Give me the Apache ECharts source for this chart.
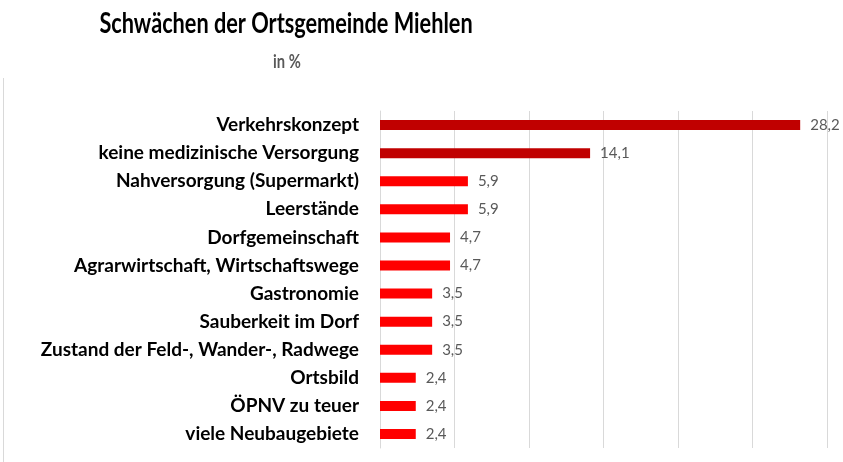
<!DOCTYPE html>
<html>
<head>
<meta charset="utf-8">
<script src="https://cdn.jsdelivr.net/npm/echarts@6/dist/echarts.min.js"></script>
<style>
  html, body { margin: 0; padding: 0; background: #fff; }
  #chart { width: 843px; height: 462px; }
</style>
</head>
<body>
<div id="chart"></div>
<script>
// Kategorien von oben nach unten
const categories = [
  'Verkehrskonzept',
  'keine medizinische Versorgung',
  'Nahversorgung (Supermarkt)',
  'Leerstände',
  'Dorfgemeinschaft',
  'Agrarwirtschaft, Wirtschaftswege',
  'Gastronomie',
  'Sauberkeit im Dorf',
  'Zustand der Feld-, Wander-, Radwege',
  'Ortsbild',
  'ÖPNV zu teuer',
  'viele Neubaugebiete'
]
const values = [28.2, 14.1, 5.9, 5.9, 4.7, 4.7, 3.5, 3.5, 3.5, 2.4, 2.4, 2.4]
const topCount = 2 // die ersten zwei Balken dunkelrot

const chart = echarts.init(document.getElementById('chart'))

const option = {
  animation: false,
  textStyle: { fontFamily: 'Lato' },
  grid: {
    left: 380,
    right: 16,
    top: 111,
    bottom: 14
  },
  xAxis: {
    type: 'value',
    min: 0,
    max: 30,
    interval: 5,
    axisLabel: { show: false },
    axisTick: { show: false },
    axisLine: { show: false },
    splitLine: { lineStyle: { color: '#d9d9d9', width: 1 } }
  },
  yAxis: {
    type: 'category',
    inverse: true,
    data: categories,
    axisTick: { show: false },
    axisLine: { show: true, lineStyle: { color: '#d9d9d9' } },
    axisLabel: {
      margin: 21,
      fontFamily: 'Lato',
      fontSize: 19,
      fontWeight: 'bold',
      color: '#000'
    }
  },
  series: [
    {
      type: 'bar',
      barWidth: 10,
      data: values.map((v, i) => ({
        value: v,
        itemStyle: { color: i < topCount ? '#C00000' : '#FF0000' }
      })),
      label: {
        show: true,
        position: 'right',
        distance: 10,
        fontFamily: 'Lato',
        fontSize: 15,
        color: '#595959',
        formatter: p => p.value.toFixed(1).replace('.', ',')
      }
    }
  ],
  graphic: [
    {
      // Titel etwas schmaler gestaucht, wie Calibri im Original
      type: 'text',
      x: 286,
      y: 24,
      scaleX: 0.775,
      style: {
        text: 'Schwächen der Ortsgemeinde Miehlen',
        align: 'center',
        verticalAlign: 'middle',
        font: 'bold 28px "Lato"',
        fill: '#000'
      }
    },
    {
      type: 'text',
      x: 287,
      y: 62,
      scaleX: 0.82,
      style: {
        text: 'in %',
        align: 'center',
        verticalAlign: 'middle',
        font: 'bold 18px "Lato"',
        fill: '#595959'
      }
    },
    {
      type: 'line',
      shape: { x1: 3.5, y1: 78, x2: 3.5, y2: 462 },
      style: { stroke: '#d9d9d9', lineWidth: 1 }
    }
  ]
}

chart.setOption(option)
</script>
</body>
</html>
